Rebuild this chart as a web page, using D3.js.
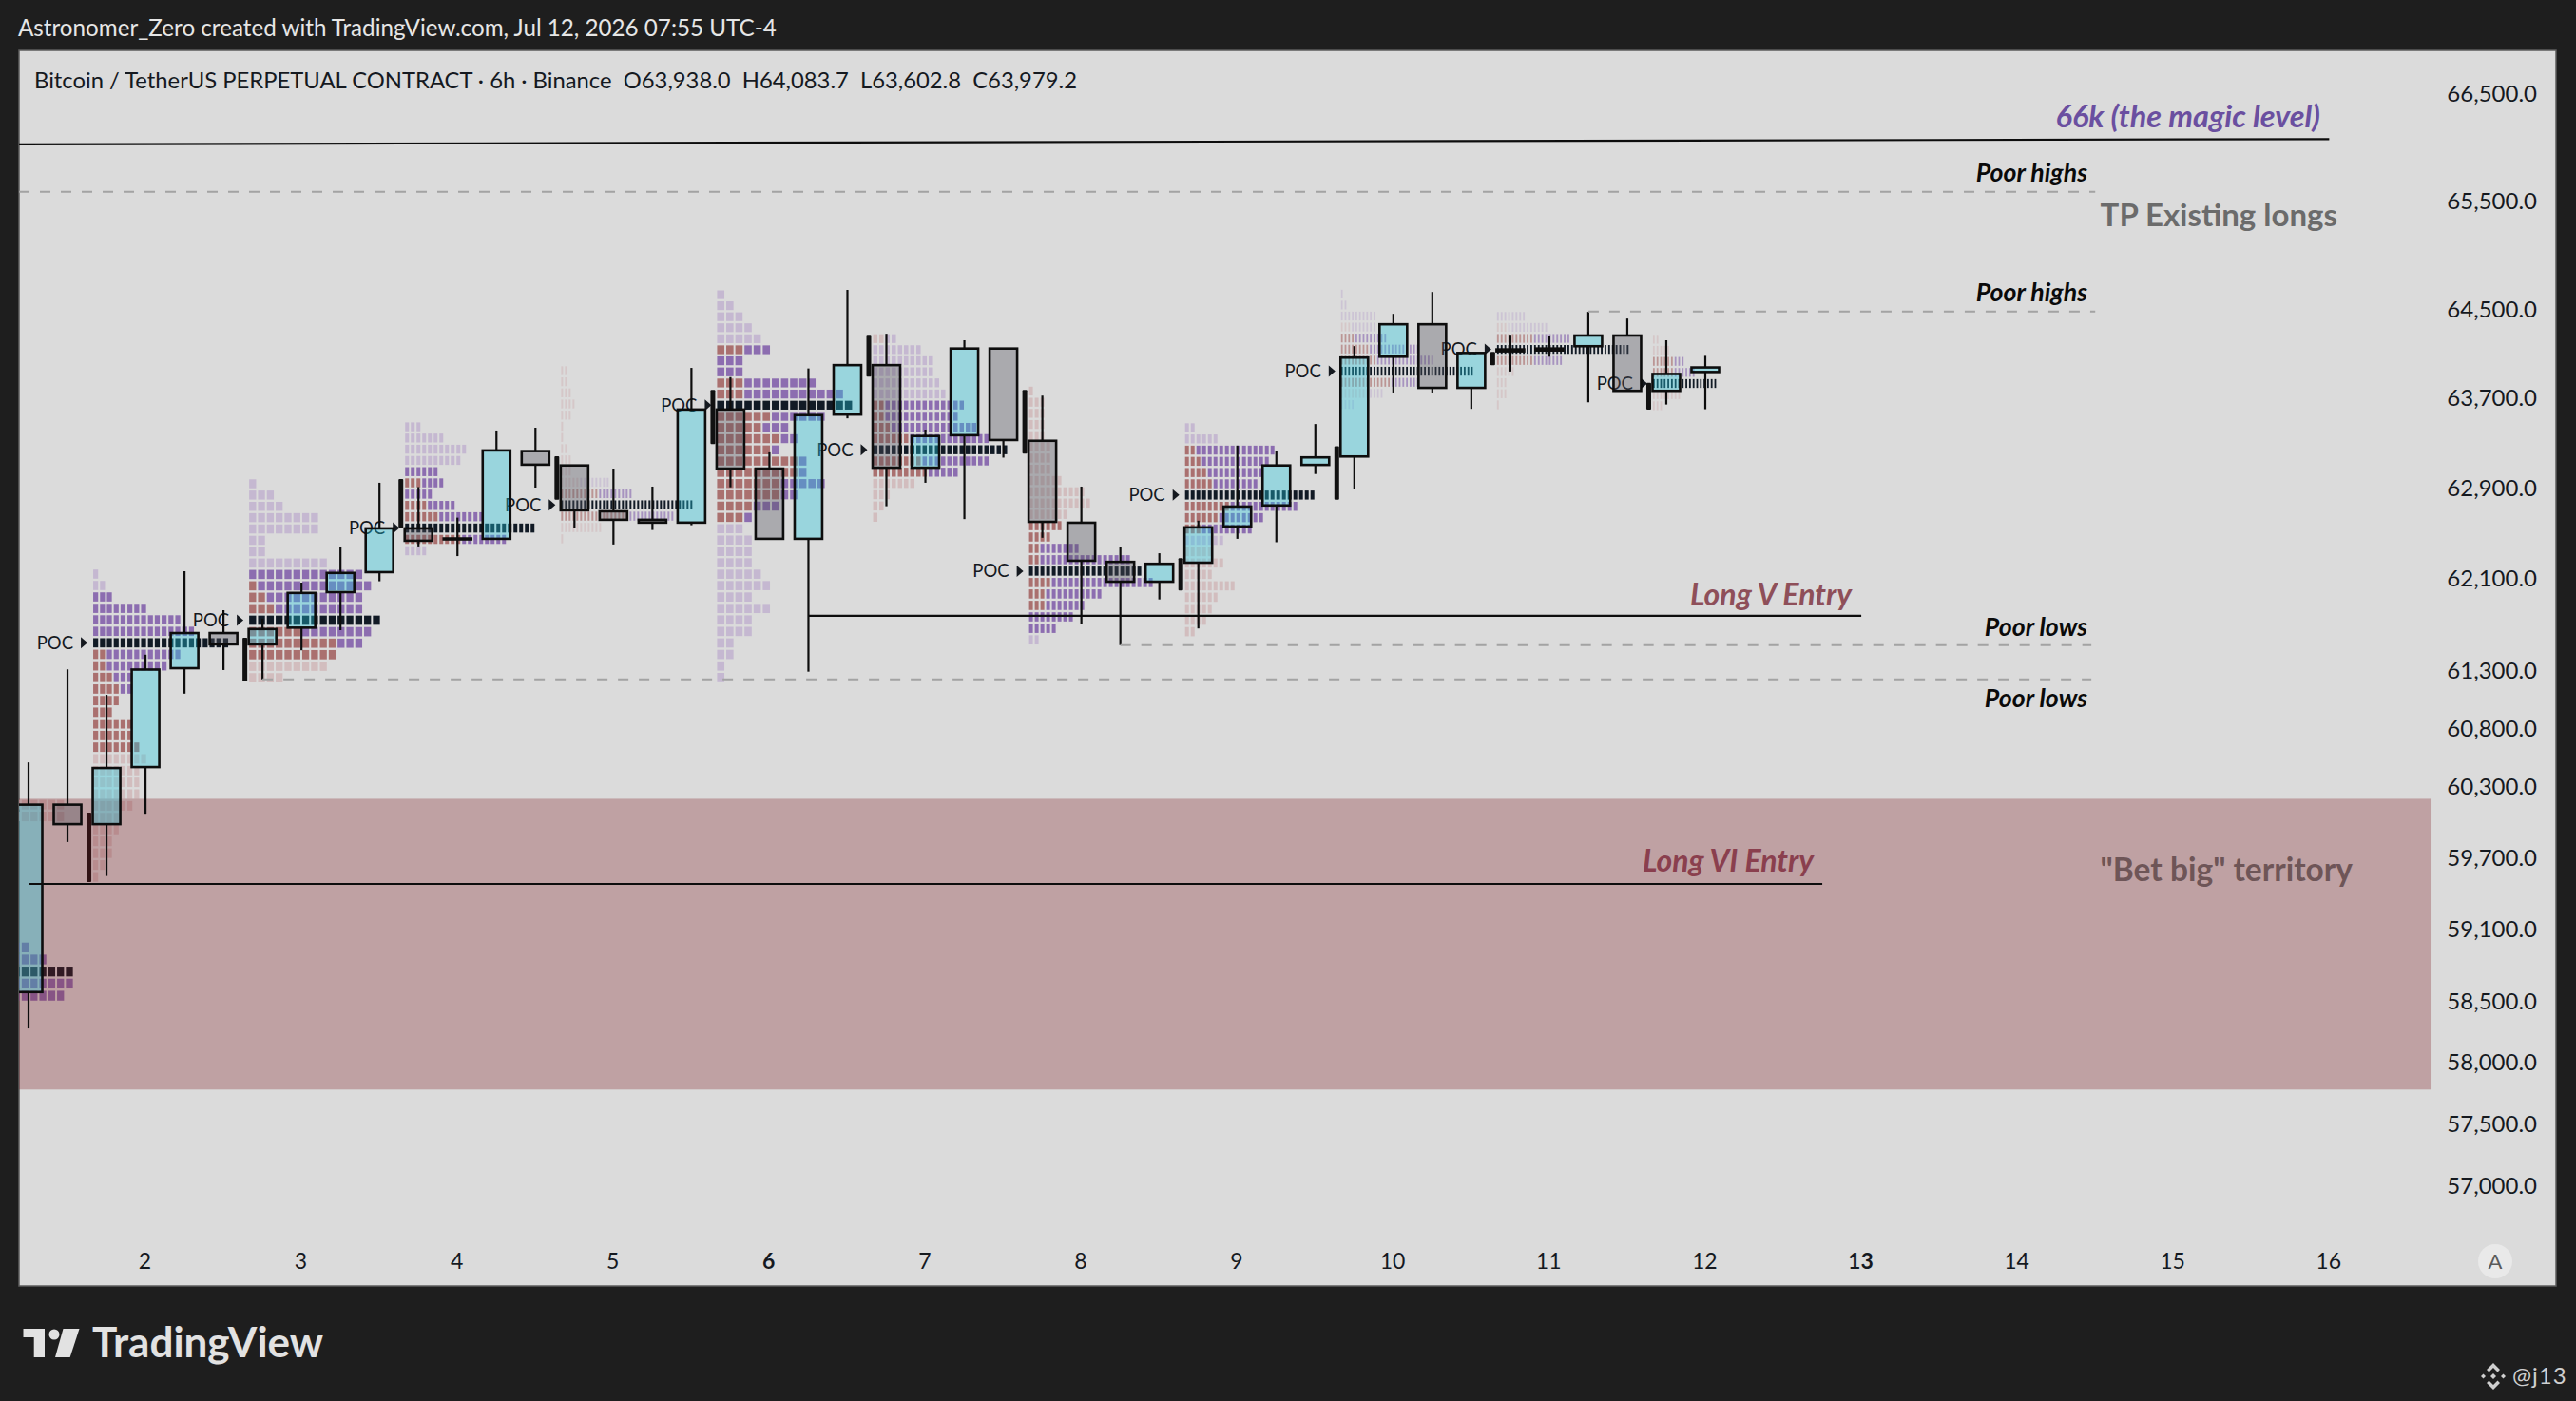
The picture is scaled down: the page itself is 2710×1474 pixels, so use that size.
<!DOCTYPE html>
<html lang="en">
<head>
<meta charset="utf-8">
<title>BTCUSDT 6h</title>
<script src="https://d3js.org/d3.v7.min.js"></script>
<style>
  body { margin: 0; background: #1e1e1e; }
  text { font-family: Lato, "Noto Sans", sans-serif; }
</style>
</head>
<body>
<script type="text/javascript">
// candles, one per 6h bar
var opens  = [58580,60150,59985,60470,61320,61625,61527,61672,61982,62157,62542,62453,62450,63228,63100,62693,62618,62593,63600,63072,62450,63555,64000,63080,63370,64150,63320,62592,62247,62073,62240,62559,62745,63105,63180,64076,64370,63795,64125,64133,64171,64268,63768,63938];
var highs  = [60510,61310,61090,61437,62165,61824,61750,62065,62375,62946,62908,62637,63412,63437,63100,63072,62912,63975,63892,63217,63970,64683,64284,63420,64225,64150,63725,62912,62381,62323,62610,63277,63225,63470,64172,64465,64664,64110,64275,64267,64483,64422,64225,64083.7];
var lows   = [58280,59834,59548,60073,61100,61304,61224,61475,61650,62077,62383,62298,62450,62903,62542,62400,62528,62570,62906,62450,61290,63521,62738,62946,62624,63170,62459,61705,61520,61918,61665,62450,62420,63024,62890,63753,63753,63606,63942,64076,63665,63768,63645,63602.8];
var closes = [60150,59985,60462,61308,61625,61527,61660,61975,62150,62542,62433,62445,63234,63107,62702,62618,62593,63600,63072,62450,63550,64000,63080,63363,64150,63327,62600,62257,62073,62230,62551,62735,63100,63172,64068,64370,63795,64110,64142,64150,64268,63768,63920,63979.2];

// axis labels
var priceTicks = [66500,65500,64500,63700,62900,62100,61300,60800,60300,59700,59100,58500,58000,57500,57000];
var dayLabels = [2,3,4,5,6,7,8,9,10,11,12,13,14,15,16];
var dayBars   = [3,7,11,15,19,23,27,31,35,39,43,47,51,55,59];
var boldDays  = [6,13];

// session volume profiles: bar the session starts on, price of the top row, rows are $100 tall
var sessionBar = [-2.1,2,6,10,14,18,22,26,30,34,38,42];
var sessionTop = [60150,62140,62937,63445,63950,64639,64240,63766,63437,64645,64442,64234];
var sessionPoc = [14,6,12,9,12,10,10,16,6,7,3,4];
var sessionVaTop    = [12,2,8,4,11,5,6,12,2,4,2,2];
var sessionVaBottom = [16,15,15,10,13,20,12,21,9,8,4,4];
var sessionCells = [
  [15,15,0,0,0,0,0,0,0,0,0,0,11,13,16,16,15],
  [1,2,3,8,13,15,20,13,11,6,6,4,3,6,6,7,8,7,7,7,6,4,4,3,3,2,1],
  [1,3,4,8,8,2,2,9,13,14,13,13,15,14,13,10,9,4],
  [3,7,11,10,6,7,5,9,14,23,18,4],
  [2,2,3,4,3,1,1,2,3,3,13,19,35,30,11,1],
  [1,2,3,4,5,6,3,3,11,14,15,12,8,9,7,10,10,12,9,7,4,3,4,4,4,5,6,4,6,4,4,2,2,1,1],
  [4,8,10,10,11,12,15,14,17,19,22,19,14,7,3,2,1],
  [1,3,3,3,3,4,4,4,6,10,11,7,6,4,9,18,20,22,13,10,8,5,2],
  [2,6,16,15,14,13,23,20,14,12,7,5,7,5,9,6,5,4,2],
  [1,2,10,10,13,22,26,37,22,12,4],
  [8,14,20,36,18,5,3,3,1],
  [2,5,9,12,18,8,3]
];
var sessionSell = [
  [15,15,0,0,0,0,0,0,0,0,0,0,0,0,0,0,0],
  [0,0,0,0,0,0,0,2,2,3,4,4,3,6,6,7,8,7,7,7,6,4,4,3,3,2,1],
  [0,0,0,0,0,0,0,0,0,1,2,3,0,6,10,10,9,4],
  [0,0,0,0,0,3,0,4,6,0,10,0],
  [2,2,3,4,3,1,1,2,3,3,5,10,0,18,11,1],
  [0,0,0,0,0,3,0,0,3,3,0,6,5,7,6,9,9,7,7,4,3,0,0,0,0,0,0,0,0,0,0,0,0,0,0],
  [2,0,0,0,0,0,2,2,3,6,0,8,9,7,3,2,1],
  [1,3,3,3,3,4,4,4,6,10,11,7,6,4,2,2,0,4,3,3,0,0,0],
  [0,0,2,3,4,5,0,8,6,3,0,5,7,5,9,6,5,4,2],
  [0,0,0,3,4,8,10,0,14,8,0],
  [0,3,10,0,10,5,3,3,1],
  [2,5,6,6,0,8,3]
];
// the thick black range bar in front of each session
var rangeHigh = [null,60082,61585,62980,63182,63777,64275,63777,62280,63272,64120,63840];
var rangeLow  = [null,59497,61205,62548,62795,63290,63897,63205,61997,62795,64000,63600];

// drawn levels
var levelNames = ["magic","poorHighsA","poorHighsB","longV","poorLowsA","poorLowsB","longVI"];
var levelBar0  = [-1,-1.316,40,20,28,6,0];
var levelBar1  = [59,53,53,47,52.9,52.9,46];
var levelP0    = [66025,65585,64485,61776,61520,61224,59481];
var levelP1    = [66075,65585,64485,61776,61520,61224,59481];
var levelDash  = [false,true,true,false,true,true,false];

var zoneTop = 60200, zoneBottom = 57780, zoneEndBar = 61.6;

// cell pitch per session, px
var cellPitch = [9.3,7.2,9.3,6,4,9.6,6.5,6,6,3.8,3.9,3.8];

var w = 2710, h = 1474;
var plot = {left: 20, right: 2689, top: 53, bottom: 1353};

var x = d3.scaleLinear().domain([0, 43]).range([30, 1794]);
var y = d3.scaleLog().domain([57000, 66500]).range([1247.6, 98.5]);

var svg = d3.select("body").append("svg")
  .attr("width", w)
  .attr("height", h)
  .style("display", "block");

svg.append("rect").attr("width", w).attr("height", h).attr("fill", "#1e1e1e");
svg.append("rect")
  .attr("x", plot.left).attr("y", plot.top)
  .attr("width", plot.right - plot.left).attr("height", plot.bottom - plot.top)
  .attr("fill", "#dbdbdb")
  .attr("stroke", "#5c5c5c").attr("stroke-width", 1.5);

svg.append("clipPath").attr("id", "plotclip").append("rect")
  .attr("x", plot.left).attr("y", plot.top)
  .attr("width", plot.right - plot.left).attr("height", plot.bottom - plot.top);

var chart = svg.append("g").attr("clip-path", "url(#plotclip)");

// volume profiles
var cellData = [];
sessionCells.forEach(function(rows, s) {
  rows.forEach(function(n, r) {
    var sell = sessionSell[s][r];
    for (var i = 0; i < n; i++) {
      cellData.push({
        s: s, r: r, i: i,
        price: sessionTop[s] - r * 100,
        poc: r === sessionPoc[s],
        va: r >= sessionVaTop[s] && r <= sessionVaBottom[s],
        sell: i < sell
      });
    }
  });
});

function cellColor(d) {
  if (d.poc) return "#111a25";
  if (d.va) return d.sell ? "#aa706f" : "#8c6db0";
  return d.sell ? "#d2bdbe" : "#c5b8d1";
}

function sessionX(s) { return x(sessionBar[s]) - 14; }

var profiles = chart.append("g");
profiles.selectAll("rect")
  .data(cellData)
  .join("rect")
  .attr("x", d => sessionX(d.s) + d.i * cellPitch[d.s])
  .attr("width", d => Math.max(cellPitch[d.s] - 2, 1.8))
  .attr("y", d => y(d.price + 50) + 1.2)
  .attr("height", d => y(d.price - 50) - y(d.price + 50) - 2.4)
  .attr("fill", cellColor)
  // the narrow cells read paler in the reference
  .attr("fill-opacity", d => !d.poc && cellPitch[d.s] < 5 ? 0.65 : 1);

// range bars
chart.append("g").selectAll("rect")
  .data(rangeHigh.map((v, s) => s).filter(s => rangeHigh[s] !== null))
  .join("rect")
  .attr("x", s => sessionX(s) - 7)
  .attr("width", 5)
  .attr("y", s => y(rangeHigh[s]))
  .attr("height", s => y(rangeLow[s]) - y(rangeHigh[s]))
  .attr("rx", 1)
  .attr("fill", "#111");

// POC tags
var pocTags = chart.append("g").selectAll("g")
  .data(sessionPoc.map((v, s) => s).filter(s => s > 0))
  .join("g")
  .attr("transform", s => "translate(" + sessionX(s) + "," + y(sessionTop[s] - sessionPoc[s] * 100) + ")");
pocTags.append("text")
  .attr("x", -21).attr("dy", "0.35em")
  .attr("text-anchor", "end")
  .attr("font-size", 18.5)
  .attr("fill", "#15191f")
  .text("POC");
pocTags.append("path")
  .attr("d", "M-13,-6 L-6,0 L-13,6 Z")
  .attr("fill", "#15191f");

// bet big zone, sits over the profiles but under the candles
chart.append("rect")
  .attr("x", plot.left)
  .attr("width", x(zoneEndBar) - plot.left)
  .attr("y", y(zoneTop))
  .attr("height", y(zoneBottom) - y(zoneTop))
  .attr("fill", "rgba(127,27,33,0.3)");

// candles
var bars = d3.range(opens.length);
var candleW = 29;
var candles = chart.append("g");
candles.selectAll("rect.fill")
  .data(bars)
  .join("rect")
  .attr("class", "fill")
  .attr("x", i => x(i) - candleW / 2)
  .attr("width", candleW)
  .attr("y", i => y(Math.max(opens[i], closes[i])))
  .attr("height", i => Math.abs(y(opens[i]) - y(closes[i])))
  .attr("fill", i => closes[i] >= opens[i] ? "rgba(36,203,225,0.36)" : "rgba(83,83,95,0.36)")
  .attr("stroke", "#0d0d0d")
  .attr("stroke-width", 2.6);
candles.selectAll("line.up")
  .data(bars)
  .join("line")
  .attr("class", "up")
  .attr("x1", x).attr("x2", x)
  .attr("y1", i => y(highs[i]))
  .attr("y2", i => y(Math.max(opens[i], closes[i])))
  .attr("stroke", "#0d0d0d").attr("stroke-width", 2.2);
candles.selectAll("line.down")
  .data(bars)
  .join("line")
  .attr("class", "down")
  .attr("x1", x).attr("x2", x)
  .attr("y1", i => y(Math.min(opens[i], closes[i])))
  .attr("y2", i => y(lows[i]))
  .attr("stroke", "#0d0d0d").attr("stroke-width", 2.2);

// levels
chart.append("g").selectAll("line")
  .data(levelNames.map((n, i) => i))
  .join("line")
  .attr("x1", i => x(levelBar0[i]))
  .attr("x2", i => x(levelBar1[i]))
  .attr("y1", i => y(levelP0[i]))
  .attr("y2", i => y(levelP1[i]))
  .attr("stroke", i => levelDash[i] ? "#a3a3a3" : "#0d0d0d")
  .attr("stroke-width", i => levelDash[i] ? 2 : 2.2)
  .attr("stroke-dasharray", i => levelDash[i] ? "11,11" : null);

// notes
var notes = [
  {t: "66k (the magic level)", x: 2441, y: 122.7, c: "#6a4fa0", s: 32.5, ital: true, w: 700},
  {t: "Poor highs", x: 2196, y: 181.7, c: "#0a0a0a", s: 26.7, ital: true, w: 700},
  {t: "Poor highs", x: 2196, y: 307.7, c: "#0a0a0a", s: 26.7, ital: true, w: 700},
  {t: "Long V Entry", x: 1948, y: 625.5, c: "#8e4f59", s: 32, ital: true, w: 700},
  {t: "Poor lows", x: 2196, y: 660, c: "#0a0a0a", s: 26.7, ital: true, w: 700},
  {t: "Poor lows", x: 2196, y: 734.4, c: "#0a0a0a", s: 26.7, ital: true, w: 700},
  {t: "Long VI Entry", x: 1908, y: 906, c: "#8a3f4e", s: 32, ital: true, w: 700},
  {t: "TP Existing longs", x: 2459, y: 226.7, c: "#6b6b6b", s: 33, ital: false, w: 700},
  {t: "\"Bet big\" territory", x: 2475, y: 915, c: "#6e5557", s: 33.5, ital: false, w: 700}
];
svg.append("g").selectAll("text")
  .data(notes)
  .join("text")
  .attr("x", d => d.x).attr("y", d => d.y)
  .attr("dy", "0.35em")
  .attr("text-anchor", "end")
  .attr("font-size", d => d.s)
  .attr("font-style", d => d.ital ? "italic" : "normal")
  .attr("font-weight", d => d.w)
  .attr("fill", d => d.c)
  .text(d => d.t);

// axes
var yAxis = svg.append("g")
  .attr("transform", "translate(2669,0)")
  .call(d3.axisRight(y).tickValues(priceTicks).tickSize(0).tickPadding(0)
    .tickFormat(d => d3.format(",.1f")(d)));
yAxis.select(".domain").remove();
yAxis.selectAll("text")
  .attr("text-anchor", "end")
  .attr("font-size", 24)
  .attr("fill", "#15191f")
  .style("font-family", "Lato");

var xAxis = svg.append("g")
  .attr("transform", "translate(-1.2,1327)")
  .call(d3.axisBottom(x).tickValues(dayBars).tickSize(0).tickPadding(0)
    .tickFormat((d, i) => dayLabels[i]));
xAxis.select(".domain").remove();
xAxis.selectAll("text")
  .attr("y", 0).attr("dy", "0.35em")
  .attr("font-size", 23)
  .attr("font-weight", (d, i) => boldDays.includes(dayLabels[i]) ? 700 : 400)
  .attr("fill", "#15191f")
  .style("font-family", "Lato");

// auto button
svg.append("circle").attr("cx", 2625).attr("cy", 1327).attr("r", 18).attr("fill", "#e9e9e9");
svg.append("text").attr("x", 2625).attr("y", 1327).attr("dy", "0.35em")
  .attr("text-anchor", "middle").attr("font-size", 22).attr("fill", "#5a5a5a").text("A");

// header
svg.append("text").attr("x", 19).attr("y", 30).attr("dy", "0.35em")
  .attr("font-size", 24.2).attr("fill", "#e6e6e6")
  .text("Astronomer_Zero created with TradingView.com, Jul 12, 2026 07:55 UTC-4");
svg.append("text").attr("x", 36).attr("y", 85).attr("dy", "0.35em")
  .attr("font-size", 23.8).attr("fill", "#15191f")
  .style("white-space", "pre")
  .text("Bitcoin / TetherUS PERPETUAL CONTRACT · 6h · Binance  O63,938.0  H64,083.7  L63,602.8  C63,979.2");

// footer logo
var logo = svg.append("g").attr("fill", "#e2e2e2");
logo.append("path").attr("d", "M24.5,1398 H47 V1428 H35.7 V1407 H24.5 Z");
logo.append("circle").attr("cx", 57).attr("cy", 1404).attr("r", 5.5);
logo.append("path").attr("d", "M66.5,1398 H83.5 L73.7,1428 H58 Z");
svg.append("text").attr("x", 97).attr("y", 1428)
  .attr("font-size", 44).attr("font-weight", 700).attr("fill", "#e2e2e2")
  .text("TradingView");

// small exchange mark and handle
var mark = svg.append("g").attr("transform", "translate(2623,1448)").attr("fill", "#cfcfcf");
mark.append("path").attr("d", "M0,-14 L7,-7 L4.5,-4.5 L0,-9 L-4.5,-4.5 L-7,-7 Z");
mark.append("path").attr("d", "M0,14 L7,7 L4.5,4.5 L0,9 L-4.5,4.5 L-7,7 Z");
mark.append("path").attr("d", "M0,-3 L3,0 L0,3 L-3,0 Z");
mark.append("path").attr("d", "M-10.5,-2.5 L-8,0 L-10.5,2.5 L-13,0 Z");
mark.append("path").attr("d", "M10.5,-2.5 L13,0 L10.5,2.5 L8,0 Z");
svg.append("text").attr("x", 2643).attr("y", 1448).attr("dy", "0.35em")
  .attr("font-size", 24).attr("fill", "#cfcfcf").attr("letter-spacing", 1)
  .text("@j13");
</script>
</body>
</html>
